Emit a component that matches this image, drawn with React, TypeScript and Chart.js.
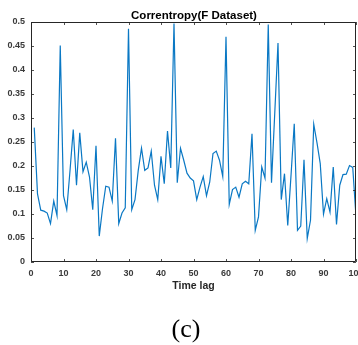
import React, { useEffect, useRef } from "react";
import { Chart, registerables } from "chart.js";

Chart.register(...registerables);

const chartTitle = "Correntropy(F Dataset)";
const xAxisTitle = "Time lag";
const caption = "(c)";

const timeLags = [
  1, 2, 3, 4, 5, 6, 7, 8, 9, 10, 11, 12, 13, 14, 15, 16, 17, 18, 19, 20,
  21, 22, 23, 24, 25, 26, 27, 28, 29, 30, 31, 32, 33, 34, 35, 36, 37, 38, 39, 40,
  41, 42, 43, 44, 45, 46, 47, 48, 49, 50, 51, 52, 53, 54, 55, 56, 57, 58, 59, 60,
  61, 62, 63, 64, 65, 66, 67, 68, 69, 70, 71, 72, 73, 74, 75, 76, 77, 78, 79, 80,
  81, 82, 83, 84, 85, 86, 87, 88, 89, 90, 91, 92, 93, 94, 95, 96, 97, 98, 99, 100,
];

const correntropy = [
  0.28, 0.142, 0.108, 0.106, 0.102, 0.08, 0.127, 0.097, 0.451, 0.138,
  0.109, 0.19, 0.276, 0.16, 0.269, 0.188, 0.208, 0.177, 0.109, 0.242,
  0.054, 0.111, 0.158, 0.156, 0.127, 0.258, 0.08, 0.102, 0.113, 0.486,
  0.109, 0.13, 0.191, 0.237, 0.191, 0.196, 0.231, 0.16, 0.13, 0.22,
  0.163, 0.273, 0.196, 0.497, 0.165, 0.237, 0.212, 0.185, 0.175, 0.169,
  0.13, 0.156, 0.178, 0.138, 0.167, 0.226, 0.231, 0.212, 0.178, 0.469,
  0.12, 0.151, 0.156, 0.135, 0.163, 0.168, 0.163, 0.267, 0.066, 0.094,
  0.198, 0.175, 0.495, 0.165, 0.31, 0.456, 0.13, 0.184, 0.076, 0.18,
  0.288, 0.066, 0.075, 0.213, 0.049, 0.087, 0.287, 0.248, 0.205, 0.1,
  0.132, 0.104, 0.198, 0.078, 0.16, 0.182, 0.183, 0.201, 0.197, 0.094,
];

const xTicks = [0, 10, 20, 30, 40, 50, 60, 70, 80, 90, 100];
const yTicks = [0, 0.05, 0.1, 0.15, 0.2, 0.25, 0.3, 0.35, 0.4, 0.45, 0.5];

const SANS = '"Liberation Sans", Arial, Helvetica, sans-serif';
const SERIF = '"Liberation Serif", "Times New Roman", serif';
const AXIS_COLOR = "#262626";

const framePlugin = {
  id: "matlabFrame",
  afterDatasetsDraw(chart: any) {
    const { ctx, chartArea, scales } = chart;
    const { left, right, top, bottom } = chartArea;
    const xs = scales.x;
    const ys = scales.y;
    ctx.save();
    ctx.strokeStyle = AXIS_COLOR;
    ctx.lineWidth = 1;
    ctx.beginPath();
    ctx.rect(left + 0.5, top + 0.5, right - left - 1, bottom - top - 1);
    ctx.stroke();
    ctx.strokeStyle = "rgba(38,38,38,0.8)";
    ctx.beginPath();
    const tl = 3;
    for (const v of xTicks) {
      const px = Math.round(xs.getPixelForValue(v)) + 0.5;
      ctx.moveTo(px, bottom);
      ctx.lineTo(px, bottom - tl);
      ctx.moveTo(px, top);
      ctx.lineTo(px, top + tl);
    }
    for (const v of yTicks) {
      const py = Math.round(ys.getPixelForValue(v)) + 0.5;
      ctx.moveTo(left, py);
      ctx.lineTo(left + tl, py);
      ctx.moveTo(right, py);
      ctx.lineTo(right - tl, py);
    }
    ctx.stroke();
    ctx.restore();
  },
  afterDraw(chart: any) {
    const { ctx } = chart;
    ctx.save();
    ctx.fillStyle = "#000";
    ctx.textAlign = "center";
    ctx.textBaseline = "alphabetic";
    ctx.font = `bold 11.5px ${SANS}`;
    ctx.fillText(chartTitle, 194, 19);
    ctx.font = `26px ${SERIF}`;
    ctx.fillText(caption, 186, 337);
    ctx.restore();
  },
};

const fmt = (v: number) => String(Number(Number(v).toFixed(2)));

export default function App() {
  const canvasRef = useRef<HTMLCanvasElement | null>(null);

  useEffect(() => {
    const canvas = canvasRef.current;
    if (!canvas) return;
    const chart = new Chart(canvas, {
      type: "line",
      data: {
        datasets: [
          {
            data: timeLags.map((lag, i) => ({ x: lag, y: correntropy[i] })),
            borderColor: "#0a78c4",
            borderWidth: 1.2,
            pointRadius: 0,
            tension: 0,
            fill: false,
          },
        ],
      },
      options: {
        responsive: false,
        devicePixelRatio: 1,
        animation: false,
        events: [],
        layout: { padding: { left: 0, top: 22, right: 2, bottom: 53 } },
        plugins: {
          legend: { display: false },
          title: { display: false },
          tooltip: { enabled: false },
        },
        scales: {
          x: {
            type: "linear",
            min: 0,
            max: 100,
            afterBuildTicks: (s: any) => {
              s.ticks = xTicks.map((v) => ({ value: v }));
            },
            ticks: {
              autoSkip: false,
              maxRotation: 0,
              padding: 6,
              color: "#3a3a3a",
              font: { size: 9, weight: "bold", family: SANS },
              callback: (v: any) => fmt(v),
            },
            grid: { display: false, drawTicks: false },
            border: { display: false },
            title: {
              display: true,
              text: xAxisTitle,
              color: "#262626",
              font: { size: 10.5, weight: "bold", family: SANS },
              padding: { top: 0, bottom: 0 },
            },
            afterFit: (s: any) => {
              s.height = 30;
              s.paddingLeft = 0;
              s.paddingRight = 0;
            },
          },
          y: {
            type: "linear",
            min: 0,
            max: 0.5,
            afterBuildTicks: (s: any) => {
              s.ticks = yTicks.map((v) => ({ value: v }));
            },
            ticks: {
              autoSkip: false,
              padding: 6,
              color: "#3a3a3a",
              font: { size: 9, weight: "bold", family: SANS },
              callback: (v: any) => fmt(v),
            },
            grid: { display: false, drawTicks: false },
            border: { display: false },
            afterFit: (s: any) => {
              s.width = 31;
              s.paddingTop = 0;
              s.paddingBottom = 0;
            },
          },
        },
      },
      plugins: [framePlugin],
    });
    return () => chart.destroy();
  }, []);

  return (
    <div style={{ position: "absolute", left: 0, top: 0, width: 358, height: 345, background: "#fff" }}>
      <canvas ref={canvasRef} width={358} height={345} style={{ display: "block" }} />
    </div>
  );
}
